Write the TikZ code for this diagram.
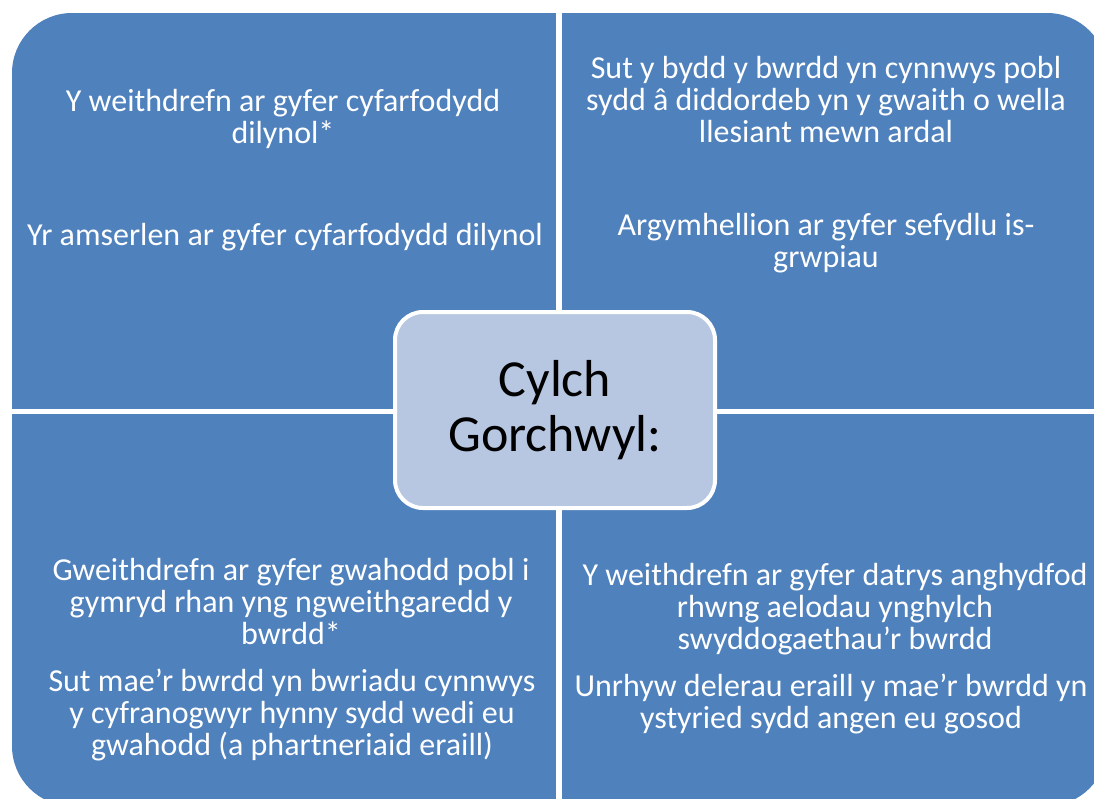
\documentclass[tikz,border=0pt]{standalone}
\usepackage{fontspec}
\setmainfont{Carlito}
\definecolor{qblue}{HTML}{4F81BD}
\definecolor{cfill}{HTML}{B7C7E1}
\begin{document}
\begin{tikzpicture}[x=1pt,y=-1pt,
  qtext/.style={text=white,align=center,font=\fontsize{32}{32}\selectfont,inner sep=0pt},
  centrebox/.style={draw=white,line width=4pt,fill=cfill,rounded corners=28pt,
    minimum width=320pt,minimum height=196pt,align=center,
    font=\fontsize{52}{55}\selectfont,text=black}]
\useasboundingbox (0,0) rectangle (1094,798);
\fill[white] (0,0) rectangle (1094,798);
\clip (0,0) rectangle (1094,798);
\fill[qblue,rounded corners=60pt] (12,13) rectangle (1107,806);
\draw[white,line width=6pt] (559,5) -- (559,810);
\draw[white,line width=5pt] (5,411.5) -- (1110,411.5);
\node[centrebox] (centre) at (555,410) {Cylch\\Gorchwyl:};
\node[qtext] (tl1) at (283,119) {Y weithdrefn ar gyfer cyfarfodydd\\dilynol*};
\node[qtext] (tl2) at (285,237) {Yr amserlen ar gyfer cyfarfodydd dilynol};
\node[qtext] (tr1) at (826,100) {Sut y bydd y bwrdd yn cynnwys pobl\\sydd â diddordeb yn y gwaith o wella\\llesiant mewn ardal};
\node[qtext] (tr2) at (826,243) {Argymhellion ar gyfer sefydlu is-\\grwpiau};
\node[qtext] (bl1) at (291,601) {Gweithdrefn ar gyfer gwahodd pobl i\\gymryd rhan yng ngweithgaredd y\\bwrdd*};
\node[qtext] (bl2) at (292,715) {Sut mae’r bwrdd yn bwriadu cynnwys\\y cyfranogwyr hynny sydd wedi eu\\gwahodd (a phartneriaid eraill)};
\node[qtext] (br1) at (835,609) {Y weithdrefn ar gyfer datrys anghydfod\\rhwng aelodau ynghylch\\swyddogaethau’r bwrdd};
\node[qtext] (br2) at (831,704) {Unrhyw delerau eraill y mae’r bwrdd yn\\ystyried sydd angen eu gosod};
\end{tikzpicture}
\end{document}
